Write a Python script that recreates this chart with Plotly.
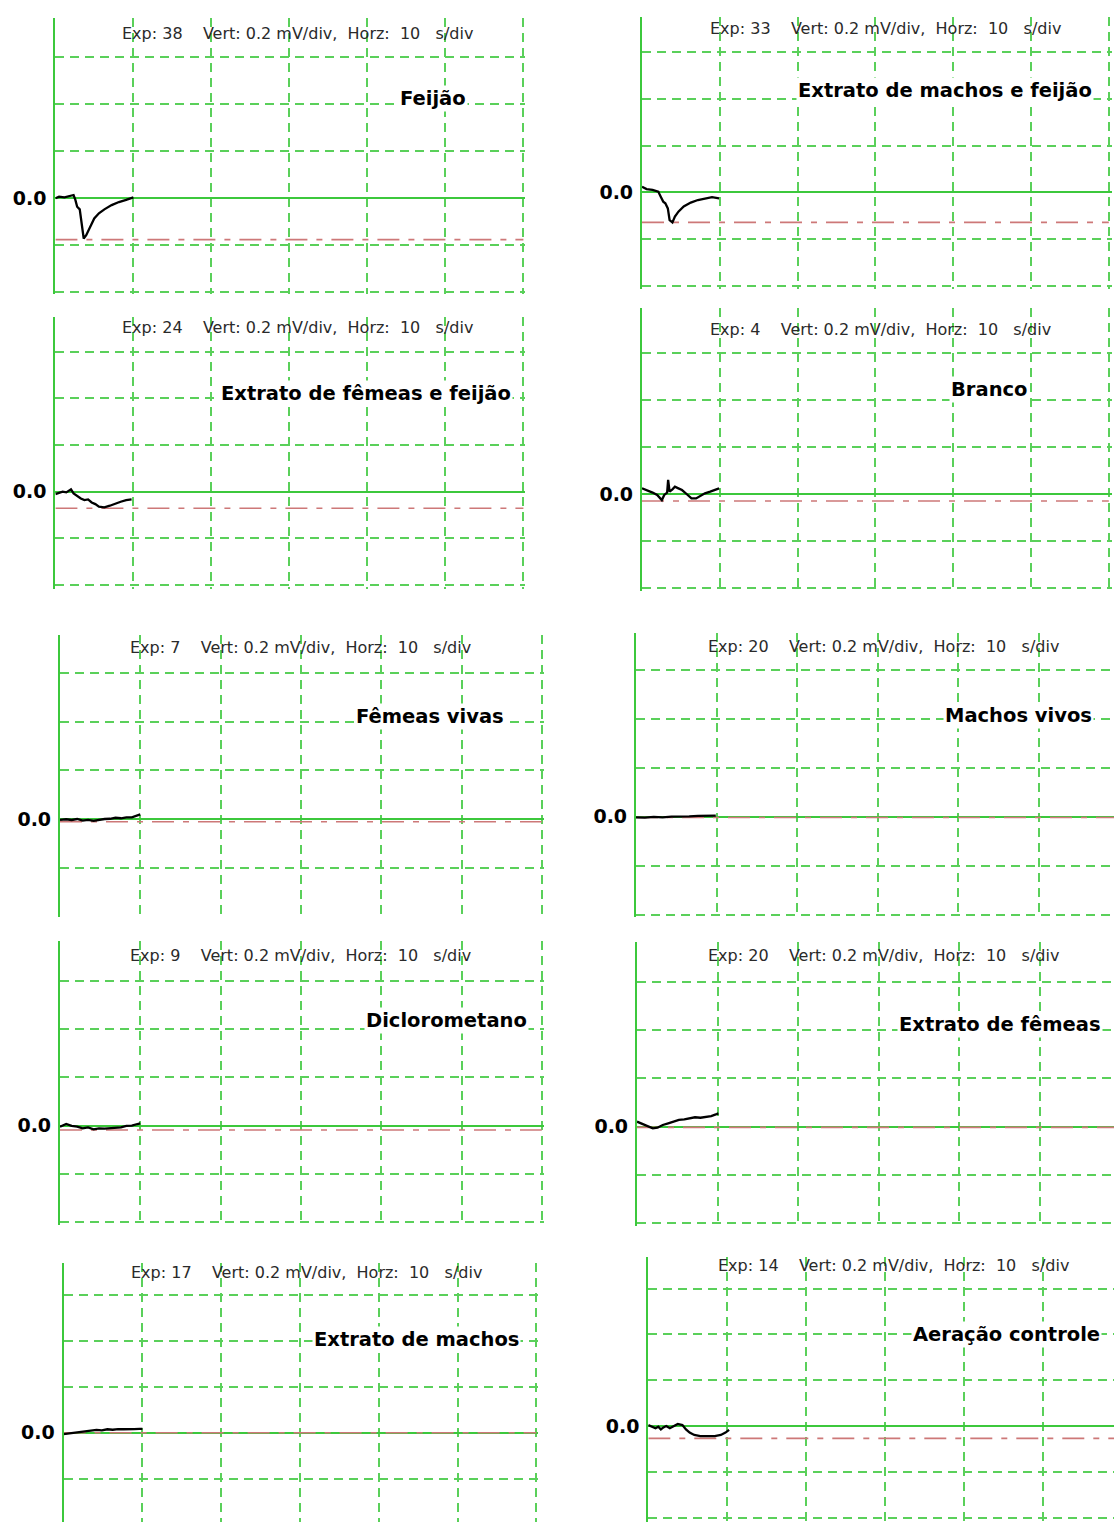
import plotly.graph_objects as go

W, H = 1114, 1522

# ---------------- data ----------------
exp_numbers = [38, 33, 24, 4, 7, 20, 9, 20, 17, 14]
stimulus_labels = ["Feijão", "Extrato de machos e feijão", "Extrato de fêmeas e feijão",
                   "Branco", "Fêmeas vivas", "Machos vivos", "Diclorometano",
                   "Extrato de fêmeas", "Extrato de machos", "Aeração controle"]
vert_mv_per_div = 0.2
horz_s_per_div = 10
n_hdiv = 6

# time (s) and response (mV) read from each recording
t_feijao = [0, 0.47, 1.16, 1.86, 2.33, 2.56, 2.79, 3.12, 3.40, 3.63, 3.95, 4.42, 4.98, 5.58, 6.28, 7.21, 8.14, 9.07, 10.0]
v_feijao = [0, 0.007, 0.004, 0.01, 0.014, -0.007, -0.036, -0.047, -0.121, -0.171, -0.157, -0.121, -0.086, -0.064, -0.047, -0.029, -0.016, -0.007, 0.004]

t_machos_feijao = [0, 0.59, 1.36, 2.09, 2.41, 2.73, 3.0, 3.32, 3.55, 3.91, 4.23, 4.68, 5.36, 6.27, 7.18, 8.09, 9.0, 9.91]
v_machos_feijao = [0.024, 0.014, 0.01, 0.003, -0.019, -0.04, -0.047, -0.069, -0.119, -0.129, -0.104, -0.083, -0.061, -0.044, -0.033, -0.026, -0.021, -0.026]

t_femeas_feijao = [0, 0.47, 0.93, 1.40, 2.0, 2.33, 2.79, 3.26, 3.72, 4.19, 4.65, 5.12, 5.58, 6.28, 6.98, 7.67, 8.37, 9.07, 9.77]
v_femeas_feijao = [-0.01, -0.004, 0, -0.003, 0.01, -0.007, -0.019, -0.029, -0.036, -0.033, -0.046, -0.053, -0.064, -0.067, -0.06, -0.05, -0.043, -0.036, -0.033]

t_branco = [0, 0.59, 1.36, 1.95, 2.55, 2.86, 3.23, 3.36, 3.55, 3.91, 4.23, 4.68, 5.14, 5.73, 6.36, 6.95, 7.55, 8.09, 8.77, 9.45, 9.91]
v_branco = [0.024, 0.017, 0.006, -0.004, -0.026, -0.004, 0.006, 0.06, 0.01, 0.02, 0.031, 0.024, 0.017, 0, -0.019, -0.019, -0.009, 0.003, 0.01, 0.017, 0.024]

t_femeas_vivas = [0, 0.77, 1.45, 2.14, 2.82, 3.5, 4.18, 4.86, 5.55, 6.23, 6.91, 7.59, 8.27, 8.95, 9.64, 10.0]
v_femeas_vivas = [-0.004, -0.001, -0.004, 0, -0.007, -0.004, -0.008, -0.004, 0, 0.001, 0.005, 0.003, 0.007, 0.007, 0.016, 0.019]

t_machos_vivos = [0, 1.10, 2.20, 3.30, 4.41, 5.51, 6.61, 7.71, 8.81, 9.91]
v_machos_vivos = [-0.003, -0.004, -0.001, -0.003, 0, -0.001, 0.001, 0.003, 0.003, 0.004]

t_diclorometano = [0, 0.77, 1.45, 2.14, 2.82, 3.5, 4.18, 4.86, 5.55, 6.23, 6.91, 7.59, 8.27, 8.95, 9.64, 10.0]
v_diclorometano = [-0.004, 0.007, -0.001, -0.004, -0.011, -0.007, -0.015, -0.011, -0.012, -0.011, -0.008, -0.007, -0.001, 0, 0.007, 0.01]

t_extrato_femeas = [0, 0.44, 0.98, 1.51, 1.96, 2.53, 3.2, 3.87, 4.53, 5.2, 5.87, 6.53, 7.2, 7.87, 8.53, 9.2, 9.87, 10.1]
v_extrato_femeas = [0.021, 0.014, 0.007, -0.003, -0.007, -0.004, 0.007, 0.014, 0.021, 0.028, 0.03, 0.034, 0.039, 0.037, 0.041, 0.044, 0.052, 0.055]

t_extrato_machos = [0, 0.77, 1.45, 2.14, 2.82, 3.5, 4.18, 4.86, 5.55, 6.23, 6.91, 7.59, 8.27, 8.95, 9.64, 10.0]
v_extrato_machos = [-0.006, -0.003, 0, 0.004, 0.007, 0.007, 0.012, 0.01, 0.015, 0.013, 0.016, 0.015, 0.017, 0.016, 0.017, 0.017]

t_aeracao = [0, 0.55, 0.91, 1.27, 1.59, 1.91, 2.27, 2.73, 3.18, 3.73, 4.32, 4.77, 5.23, 5.82, 6.59, 7.5, 8.41, 9.18, 9.77, 10.23]
v_aeracao = [0.004, -0.003, -0.01, -0.003, -0.015, -0.006, 0, -0.01, -0.003, 0.009, 0.004, -0.015, -0.029, -0.039, -0.044, -0.044, -0.044, -0.039, -0.029, -0.017]

# level of the red reference (cursor) line in each recording, mV
reference_levels = [-0.176, -0.129, -0.071, -0.03, -0.011, -0.003, -0.018, -0.003, 0.0, -0.054]

traces_t = [t_feijao, t_machos_feijao, t_femeas_feijao, t_branco, t_femeas_vivas,
            t_machos_vivos, t_diclorometano, t_extrato_femeas, t_extrato_machos, t_aeracao]
traces_v = [v_feijao, v_machos_feijao, v_femeas_feijao, v_branco, v_femeas_vivas,
            v_machos_vivos, v_diclorometano, v_extrato_femeas, v_extrato_machos, v_aeracao]

# ---------------- geometry (pixels) ----------------
# left x, px per division (x), zero-line y, px per division (y), top, bottom, right
panels_px = [
    (55.4, 78.0, 198.3, 47.0, 18, 294, 525),
    (642.0, 77.8, 192.3, 46.7, 17, 289, 1112),
    (55.4, 78.0, 491.7, 46.7, 317, 589, 525),
    (642.0, 77.8, 494.0, 47.0, 308, 591, 1112),
    (60.0, 80.3, 819.0, 48.7, 635, 917, 544),
    (636.0, 80.5, 816.7, 49.0, 633, 917, 1114),
    (60.0, 80.3, 1125.7, 48.3, 941, 1225, 544),
    (637.0, 80.6, 1126.7, 48.3, 942, 1226, 1114),
    (63.6, 78.8, 1432.7, 45.8, 1263, 1522, 538),
    (648.3, 79.0, 1426.0, 45.8, 1257, 1522, 1114),
]
title_px = [(119.6, 33), (707.7, 28), (119.6, 327), (708, 329), (127.9, 647),
            (705.6, 646), (127.9, 955), (705.6, 955), (129.3, 1272), (715.5, 1265)]
label_px = [(433, 98), (944.5, 91), (366, 393), (989, 390), (429.5, 716),
            (1018.5, 715), (446, 1020), (1000, 1024), (416, 1339), (1006, 1334)]

GREEN = "rgb(60,200,60)"
GRID = "rgb(90,208,90)"
RED = "rgb(205,120,120)"
NB = "\u00a0"

fig = go.Figure()
annotations = []
ytickvals = [round(k * vert_mv_per_div, 1) for k in range(-3, 5)]
yticktext = ["0.0" if v == 0 else "" for v in ytickvals]
xtickvals = [k * horz_s_per_div for k in range(n_hdiv + 1)]

for i in range(10):
    x0, pxx, zy, pxy, top, bot, right = panels_px[i]
    s = "" if i == 0 else str(i + 1)
    xmax = (right - x0) / pxx * horz_s_per_div
    ymin = (zy - bot) / pxy * vert_mv_per_div
    ymax = (zy - top) / pxy * vert_mv_per_div

    fig.add_trace(go.Scatter(
        x=[0, n_hdiv * horz_s_per_div], y=[reference_levels[i]] * 2, mode="lines",
        line=dict(color=RED, width=1.6, dash="22px,9px,6px,9px"),
        xaxis="x" + s, yaxis="y" + s, showlegend=False, hoverinfo="skip"))
    fig.add_trace(go.Scatter(
        x=traces_t[i], y=traces_v[i], mode="lines",
        line=dict(color="black", width=2.3),
        xaxis="x" + s, yaxis="y" + s, showlegend=False))

    fig.layout["xaxis" + s] = dict(
        domain=[x0 / W, min(right / W, 1.0)], range=[0, xmax], anchor="y" + s,
        tickvals=xtickvals, showticklabels=False, ticks="",
        showgrid=True, gridcolor=GRID, gridwidth=1.8, griddash="9px,6px",
        zeroline=False, showline=False, fixedrange=True)
    fig.layout["yaxis" + s] = dict(
        domain=[1 - bot / H, 1 - top / H], range=[ymin, ymax], anchor="x" + s,
        tickvals=ytickvals, ticktext=yticktext, ticks="", ticklabelstandoff=3,
        tickfont=dict(family="DejaVu Sans", size=19, color="black", weight="bold"),
        showgrid=True, gridcolor=GRID, gridwidth=1.8, griddash="9px,6px",
        zeroline=True, zerolinecolor=GREEN, zerolinewidth=2.2,
        showline=True, linecolor=GREEN, linewidth=2.2, fixedrange=True)

    tx, ty = title_px[i]
    title_text = (f"Exp: {exp_numbers[i]}" + NB * 4 + f"Vert: {vert_mv_per_div} mV/div," + NB * 2
                  + "Horz:" + NB * 2 + f"{horz_s_per_div}" + NB * 3 + "s/div")
    annotations.append(dict(
        x=tx / W, y=1 - ty / H, xref="paper", yref="paper", xanchor="left", yanchor="middle",
        text=title_text, showarrow=False,
        font=dict(family="DejaVu Sans", size=16, color="#2a2a2a")))
    lx, ly = label_px[i]
    annotations.append(dict(
        x=lx / W, y=1 - ly / H, xref="paper", yref="paper", xanchor="center", yanchor="middle",
        text=stimulus_labels[i], showarrow=False, bgcolor="white", borderpad=1,
        font=dict(family="DejaVu Sans", size=19.5, color="black", weight="bold")))

fig.update_layout(
    width=W, height=H, autosize=False,
    margin=dict(l=0, r=0, t=0, b=0),
    paper_bgcolor="white", plot_bgcolor="white",
    annotations=annotations, showlegend=False)

fig.write_html("out.html", config={"displayModeBar": False},
               post_script="document.body.style.margin='0';")
